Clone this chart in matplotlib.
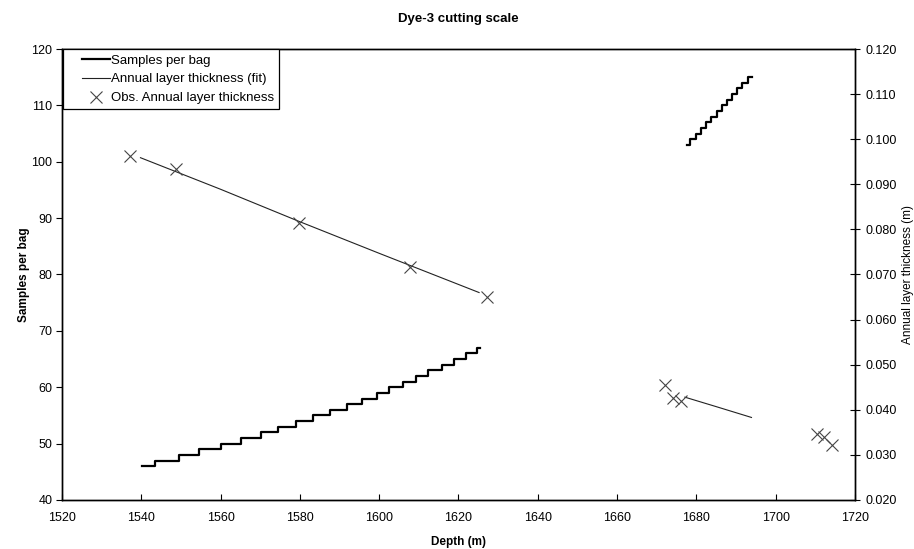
#!/usr/bin/env python3

import numpy as np
import matplotlib
matplotlib.use('Agg')
import matplotlib.pyplot as plt
from matplotlib.lines import Line2D
from matplotlib.legend_handler import HandlerLine2D
from matplotlib.ticker import FormatStrFormatter

plt.rcParams['font.family'] = ['Liberation Sans', 'DejaVu Sans']

# Samples per bag, first depth interval (step changes)
bag_depth_a = [1540.1, 1543.5, 1549.6, 1554.6, 1560.0, 1565.1, 1570.1, 1574.6,
               1578.9, 1583.4, 1587.6, 1591.8, 1595.6, 1599.4, 1602.6, 1605.9,
               1609.2, 1612.4, 1615.8, 1619.0, 1621.8, 1624.6, 1625.4]
bag_count_a = [46, 47, 48, 49, 50, 51, 52, 53, 54, 55, 56, 57, 58, 59, 60, 61,
               62, 63, 64, 65, 66, 67, 67]

# Samples per bag, second depth interval
bag_depth_b = [1677.6, 1678.3, 1679.8, 1681.2, 1682.5, 1683.8, 1685.1, 1686.4,
               1687.7, 1689.0, 1690.3, 1691.6, 1693.0, 1694.0]
bag_count_b = [103, 104, 105, 106, 107, 108, 109, 110, 111, 112, 113, 114, 115, 115]

# Fitted annual layer thickness (m)
fit_depth = [1539.8, 1560.0, 1580.0, 1600.0, 1625.2, np.nan, 1677.1, 1685.0, 1693.9]
fit_thick = [0.0959, 0.0889, 0.0817, 0.0747, 0.0660, np.nan, 0.0428, 0.0407, 0.0383]

# Observed annual layer thickness (m)
obs_depth = [1537.1, 1548.8, 1579.8, 1607.8, 1627.3, 1672.2, 1674.0, 1676.1,
             1710.5, 1712.2, 1714.2]
obs_thick = [0.0963, 0.0933, 0.0815, 0.0717, 0.0651, 0.0455, 0.0426, 0.0420,
             0.0346, 0.0339, 0.0323]

x_ticks = list(range(1520, 1721, 20))
left_ticks = list(range(40, 121, 10))
right_ticks = [0.02, 0.03, 0.04, 0.05, 0.06, 0.07, 0.08, 0.09, 0.10, 0.11, 0.12]


def main():
    fig = plt.figure(figsize=(9.14, 5.49), dpi=100)
    ax = fig.add_axes([0.0678, 0.0893, 0.8676, 0.8214])
    ax2 = ax.twinx()

    h_bag, = ax.plot(bag_depth_a, bag_count_a, drawstyle='steps-post',
                     color='black', lw=1.6, label='Samples per bag')
    ax.plot(bag_depth_b, bag_count_b, drawstyle='steps-post', color='black', lw=1.6)

    h_fit, = ax2.plot(fit_depth, fit_thick, color='#222222', lw=0.8,
                      label='Annual layer thickness (fit)')
    h_obs, = ax2.plot(obs_depth, obs_thick, ls='none', marker='x', ms=8,
                      mew=0.8, color='#444444', label='Obs. Annual layer thickness')

    ax.set_xlim(1520, 1720)
    ax.set_ylim(40, 120)
    ax2.set_ylim(0.02, 0.12)
    ax.set_xticks(x_ticks)
    ax.set_yticks(left_ticks)
    ax2.set_yticks(right_ticks)
    ax2.yaxis.set_major_formatter(FormatStrFormatter('%.3f'))

    ax.tick_params(axis='x', direction='in', length=4, labelsize=9, pad=9)
    ax.tick_params(axis='y', direction='out', length=4, labelsize=9, pad=3)
    ax2.tick_params(axis='y', direction='inout', length=7, labelsize=9, pad=4)

    for a in (ax, ax2):
        for s in a.spines.values():
            s.set_linewidth(1.0)
            s.set_color('black')

    fig.suptitle('Dye-3 cutting scale', x=0.501, y=0.977, fontsize=9.5,
                 fontweight='bold')
    ax.set_xlabel('Depth (m)', fontsize=8.5, fontweight='bold', labelpad=8)
    ax.set_ylabel('Samples per bag', fontsize=8.5, fontweight='bold', labelpad=1)
    ax2.set_ylabel('Annual layer thickness (m)', fontsize=8.5, labelpad=4)

    # handles sit to the right of their slot, as in spreadsheet legends
    leg = ax2.legend(handles=[h_bag, h_fit, h_obs], loc='upper left',
                     bbox_to_anchor=(0.001, 1.0), borderaxespad=0.0, fontsize=9.5,
                     fancybox=False, framealpha=1, edgecolor='black',
                     handlelength=3.15, handletextpad=0.1, borderpad=0.4,
                     labelspacing=0.5,
                     handler_map={Line2D: HandlerLine2D(xpad=1.05)})
    leg.get_frame().set_linewidth(0.9)

    fig.savefig('out.png', dpi=100)


if __name__ == '__main__':
    main()
